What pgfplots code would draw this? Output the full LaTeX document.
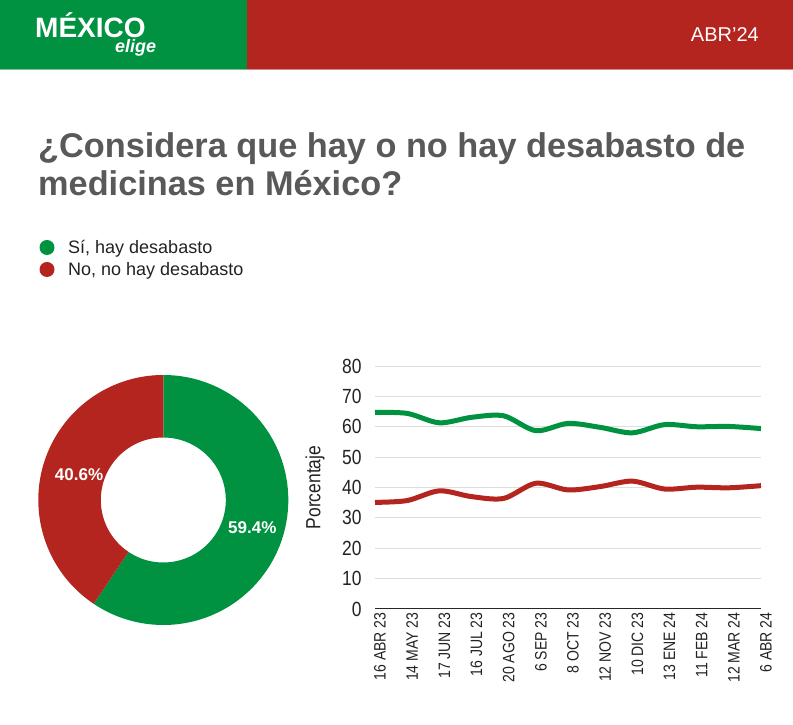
\documentclass[border=0pt]{standalone}
\usepackage{pgfplots}
\pgfplotsset{compat=1.18}
\usepackage{pgfplotstable}
\usepackage{fontspec}
\setmainfont{Liberation Sans}
\newfontfamily\condfont[FakeStretch=0.85]{Liberation Sans}
\definecolor{mgreen}{HTML}{009241}
\definecolor{mred}{HTML}{B5251F}
\definecolor{titlegray}{HTML}{595959}
\definecolor{txt}{HTML}{222222}

\pgfplotstableread{
idx si no
0 64.7 35.1
1 64.4 35.7
2 61.3 38.9
3 63.1 37.0
4 63.6 36.4
5 58.7 41.4
6 61.1 39.2
7 59.8 40.3
8 58.0 42.1
9 60.7 39.5
10 60.0 40.1
11 60.1 39.9
12 59.4 40.6
}\trend

\pgfplotstableread{
label value
si 59.4
no 40.6
}\pie

\begin{document}
\begin{tikzpicture}[x=1pt,y=1pt]
\useasboundingbox (0pt,0pt) rectangle (793pt,725pt);
% header
\fill[mgreen] (0pt,655pt) rectangle (247pt,725pt);
\fill[mred] (247pt,655pt) rectangle (793pt,725pt);
\fill[mgreen!55] (0pt,654.5pt) rectangle (247pt,656pt);
\fill[mred!55] (247pt,654.5pt) rectangle (793pt,656pt);
\node[anchor=base west, white, inner sep=0, font=\fontsize{28}{28}\selectfont\bfseries] at (35pt,687pt) {MÉXICO};
\node[anchor=base west, white, inner sep=0, font=\fontsize{18}{18}\selectfont\bfseries\itshape] at (115pt,672pt) {elige};
\node[anchor=base east, white, inner sep=0, font=\fontsize{20}{20}\selectfont] at (759pt,683pt) {ABR'24};
% title
\node[anchor=base west, text=titlegray, inner sep=0, font=\fontsize{34.3}{34.3}\selectfont\bfseries] at (38pt,567pt) {¿Considera que hay o no hay desabasto de};
\node[anchor=base west, text=titlegray, inner sep=0, font=\fontsize{34.3}{34.3}\selectfont\bfseries] at (38pt,529pt) {medicinas en México?};
% legend
\fill[mgreen] (47pt,477.5pt) circle (7.5pt);
\fill[mred] (47pt,455.5pt) circle (7.5pt);
\node[anchor=base west, text=txt, inner sep=0, font=\fontsize{18}{18}\selectfont] at (68pt,471.5pt) {Sí, hay desabasto};
\node[anchor=base west, text=txt, inner sep=0, font=\fontsize{18}{18}\selectfont] at (68pt,449.5pt) {No, no hay desabasto};

% donut
\pgfplotstablegetelem{0}{value}\of\pie \let\valS\pgfplotsretval
\pgfplotstablegetelem{1}{value}\of\pie \let\valN\pgfplotsretval
\pgfmathsetmacro{\angS}{90-3.6*\valS}
\begin{axis}[at={(163.3pt,225pt)}, anchor=center, scale only axis, width=250pt, height=250pt,
  xmin=-1, xmax=1, ymin=-1, ymax=1, hide axis]
  \addplot[draw=none] coordinates {(0,0)};
  \begin{scope}[shift={(axis cs:0,0)}]
    \fill[mgreen] (90:125pt) arc[start angle=90, end angle=\angS, radius=125pt]
       -- (\angS:62.5pt) arc[start angle=\angS, end angle=90, radius=62.5pt] -- cycle;
    \fill[mred] (\angS:125pt) arc[start angle=\angS, end angle=-270, radius=125pt]
       -- (90:62.5pt) arc[start angle=90, end angle=\angS+360, radius=62.5pt] -- cycle;
  \end{scope}
  \node[white, font=\fontsize{17}{17}\selectfont\bfseries] at (axis cs:0.712,-0.218) {\valS\%};
  \node[white, font=\fontsize{17}{17}\selectfont\bfseries] at (axis cs:-0.674,0.205) {\valN\%};
\end{axis}

% line chart
\begin{axis}[at={(375pt,116pt)}, anchor=south west, scale only axis,
  width=386pt, height=243pt,
  xmin=0, xmax=12, ymin=0, ymax=80,
  axis x line*=bottom, axis y line*=left,
  x axis line style={draw=black!85, line width=1pt, -},
  y axis line style={draw=none},
  ytick={0,10,...,80}, xtick={0,...,12},
  xticklabels={16 ABR 23,14 MAY 23,17 JUN 23,16 JUL 23,20 AGO 23,6 SEP 23,8 OCT 23,12 NOV 23,10 DIC 23,13 ENE 24,11 FEB 24,12 MAR 24,6 ABR 24},
  major tick length=0pt,
  ymajorgrids, grid style={draw=black!13, line width=1pt},
  /pgf/number format/assume math mode=true,
  yticklabel style={font=\condfont\fontsize{20.5}{20.5}\selectfont, text=txt, xshift=-10pt},
  xticklabel style={rotate=90, anchor=east, font=\condfont\fontsize{16.5}{16.5}\selectfont, text=txt, yshift=-5pt},
  ylabel={Porcentaje},
  ylabel style={at={(axis description cs:-0.155,0.5)}, anchor=center, font=\condfont\fontsize{20.5}{20.5}\selectfont, text=txt},
  clip=false]
  \addplot[mgreen, line width=5pt, smooth] table[x=idx, y=si] {\trend};
  \addplot[mred, line width=5pt, smooth] table[x=idx, y=no] {\trend};
\end{axis}
\end{tikzpicture}
\end{document}
